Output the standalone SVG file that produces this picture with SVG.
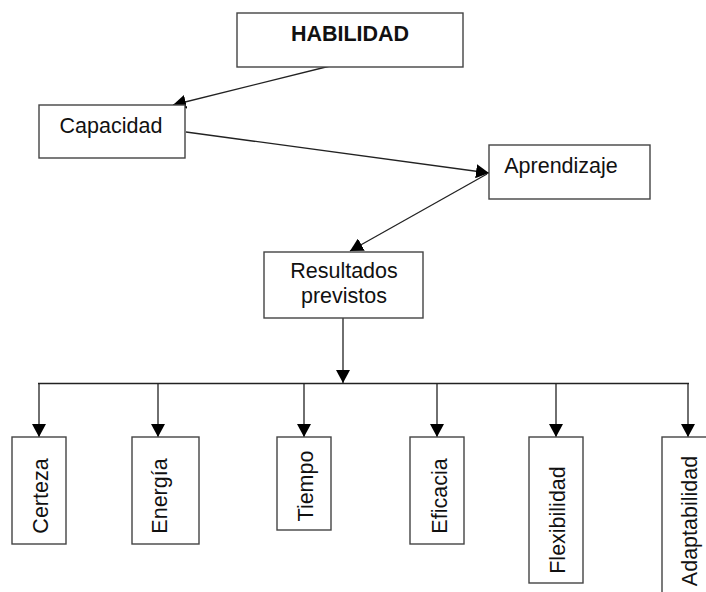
<svg xmlns="http://www.w3.org/2000/svg" width="706" height="592" viewBox="0 0 706 592">
<defs>
<style>
.box{fill:#fff;stroke:#444;stroke-width:1.4}
.t{font-family:"Liberation Sans",Arial,sans-serif;font-size:21.5px;fill:#111}
.b{font-weight:bold}
.ln{stroke:#222;stroke-width:1.3;fill:none}
.v{text-anchor:middle}
</style>
<marker id="ah" markerUnits="userSpaceOnUse" markerWidth="14" markerHeight="14" viewBox="0 0 14 14" refX="13" refY="7" orient="auto">
<path d="M0,0 L13,7 L0,14 Z" fill="#000"/>
</marker>
</defs>
<rect width="706" height="592" fill="#fff"/>
<g id="connectors">
<line class="ln" x1="330" y1="66" x2="173" y2="105" marker-end="url(#ah)"/>
<line class="ln" x1="186" y1="132" x2="489" y2="173" marker-end="url(#ah)"/>
<line class="ln" x1="487" y1="174" x2="350" y2="251" marker-end="url(#ah)"/>
<line class="ln" x1="343" y1="318" x2="343" y2="383" marker-end="url(#ah)"/>
<line class="ln" x1="38" y1="383.5" x2="689" y2="383.5"/>
<line class="ln" x1="39" y1="383" x2="39" y2="437" marker-end="url(#ah)"/>
<line class="ln" x1="158" y1="383" x2="158" y2="437" marker-end="url(#ah)"/>
<line class="ln" x1="304" y1="383" x2="304" y2="437" marker-end="url(#ah)"/>
<line class="ln" x1="437" y1="383" x2="437" y2="437" marker-end="url(#ah)"/>
<line class="ln" x1="556" y1="383" x2="556" y2="437" marker-end="url(#ah)"/>
<line class="ln" x1="688" y1="383" x2="688" y2="437" marker-end="url(#ah)"/>
</g>
<g id="habilidad">
<rect class="box" x="237" y="13" width="226" height="54"/>
<text class="t b v" x="350" y="41">HABILIDAD</text>
</g>
<g id="capacidad">
<rect class="box" x="39" y="105" width="146" height="53"/>
<text class="t v" x="111" y="133">Capacidad</text>
</g>
<g id="aprendizaje">
<rect class="box" x="489" y="145" width="161" height="54"/>
<text class="t v" x="561" y="173">Aprendizaje</text>
</g>
<g id="resultados">
<rect class="box" x="264" y="252" width="159" height="66"/>
<text class="t v" x="344" y="278">Resultados</text>
<text class="t v" x="344" y="303">previstos</text>
</g>
<g id="certeza">
<rect class="box" x="12" y="437" width="54" height="107"/>
<text class="t v" transform="translate(48,496) rotate(-90)">Certeza</text>
</g>
<g id="energia">
<rect class="box" x="132" y="437" width="67" height="107"/>
<text class="t v" transform="translate(167,496) rotate(-90)">Energía</text>
</g>
<g id="tiempo">
<rect class="box" x="277" y="437" width="54" height="93"/>
<text class="t v" transform="translate(313,486) rotate(-90)">Tiempo</text>
</g>
<g id="eficacia">
<rect class="box" x="410" y="437" width="54" height="107"/>
<text class="t v" transform="translate(447,496) rotate(-90)">Eficacia</text>
</g>
<g id="flexibilidad">
<rect class="box" x="529" y="437" width="54" height="146"/>
<text class="t v" transform="translate(565,520) rotate(-90)">Flexibilidad</text>
</g>
<g id="adaptabilidad">
<rect class="box" x="662" y="437" width="54" height="170"/>
<text class="t v" transform="translate(697,521) rotate(-90)">Adaptabilidad</text>
</g>
</svg>
